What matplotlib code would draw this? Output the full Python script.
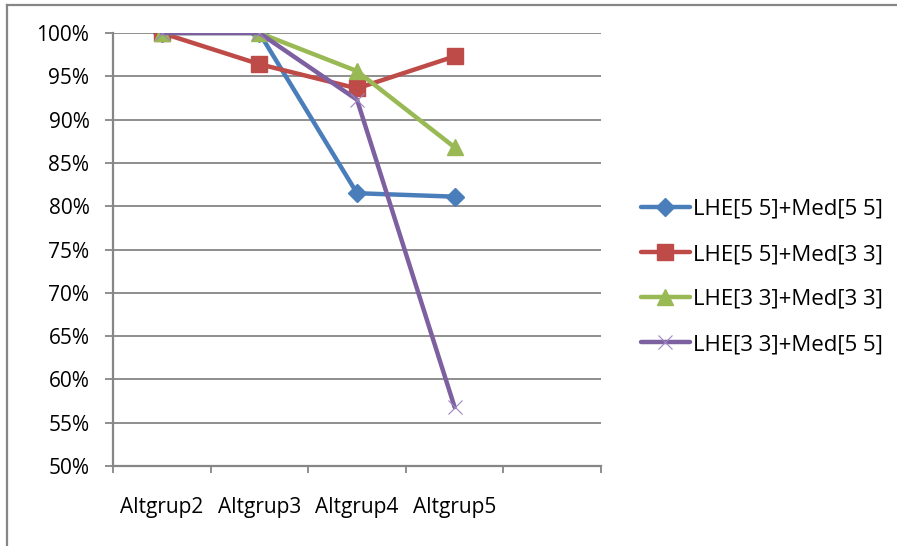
import matplotlib
matplotlib.use("Agg")
import matplotlib.pyplot as plt
from matplotlib.lines import Line2D
from matplotlib.ticker import FixedLocator, PercentFormatter

categories = ["Altgrup2", "Altgrup3", "Altgrup4", "Altgrup5", ""]
series_names = ["LHE[5 5]+Med[5 5]", "LHE[5 5]+Med[3 3]", "LHE[3 3]+Med[3 3]", "LHE[3 3]+Med[5 5]"]
blue_vals = [100.0, 100.0, 81.5, 81.1]
red_vals = [100.0, 96.4, 93.6, 97.3]
green_vals = [100.0, 100.0, 95.6, 86.8]
purple_vals = [100.0, 100.0, 92.3, 56.8]
y_ticks = [50, 55, 60, 65, 70, 75, 80, 85, 90, 95, 100]

plt.rcParams['font.family'] = ['Open Sans', 'DejaVu Sans']

W, H = 897, 546
fig = plt.figure(figsize=(W / 100, H / 100), dpi=100)
ax = fig.add_axes([113 / W, 1 - 466 / H, (601 - 113) / W, (466 - 33) / H])

grey = "#868686"
styles = [
    dict(color="#4A7EBB", marker="D", ms=9, mec="#4A7EBB"),
    dict(color="#BE4B48", marker="s", ms=12, mec="#BE4B48"),
    dict(color="#98B954", marker="^", ms=12, mec="#98B954"),
    dict(color="#7D60A0", marker="x", ms=10, mew=0.8, mec="#9C86C0"),
]
all_vals = [blue_vals, red_vals, green_vals, purple_vals]
xs = list(range(len(blue_vals)))
handles = []
for vals, name, st in zip(all_vals, series_names, styles):
    h, = ax.plot(xs, vals, lw=3.2, label=name, solid_capstyle="round", zorder=3, **st)
    handles.append(h)

ax.set_xlim(-0.5, len(categories) - 0.5)
ax.set_ylim(50, 100)
ax.yaxis.set_major_locator(FixedLocator(y_ticks))
ax.yaxis.set_major_formatter(PercentFormatter(decimals=0))
ax.grid(axis="y", color=grey, lw=1.3, zorder=0)
ax.set_axisbelow(True)

ax.set_xticks([i - 0.5 for i in range(len(categories) + 1)])
ax.set_xticklabels([])
ax.set_xticks(range(len(categories)), minor=True)
ax.set_xticklabels(categories, minor=True)
ax.tick_params(axis="x", which="major", length=5, color=grey, width=1.3, direction="out")
ax.tick_params(axis="x", which="minor", length=0, pad=22, labelsize=15)
ax.tick_params(axis="y", length=6, color=grey, width=1.3, pad=11, labelsize=15)

for s in ["top", "right"]:
    ax.spines[s].set_visible(False)
for s in ["left", "bottom"]:
    ax.spines[s].set_color(grey)
    ax.spines[s].set_linewidth(1.6)

fig.legend(handles=handles, loc="center left", bbox_to_anchor=(621 / W, 1 - 277 / H),
           frameon=False, fontsize=16, numpoints=1, handlelength=2.2,
           handletextpad=0.14, labelspacing=1.08)

fig.add_artist(Line2D([7 / W, 7 / W], [0, 1 - 5 / H], color=grey, lw=1.6, transform=fig.transFigure))
fig.add_artist(Line2D([7 / W, 1], [1 - 5 / H, 1 - 5 / H], color=grey, lw=1.6, transform=fig.transFigure))

fig.savefig("out.png", dpi=100)
